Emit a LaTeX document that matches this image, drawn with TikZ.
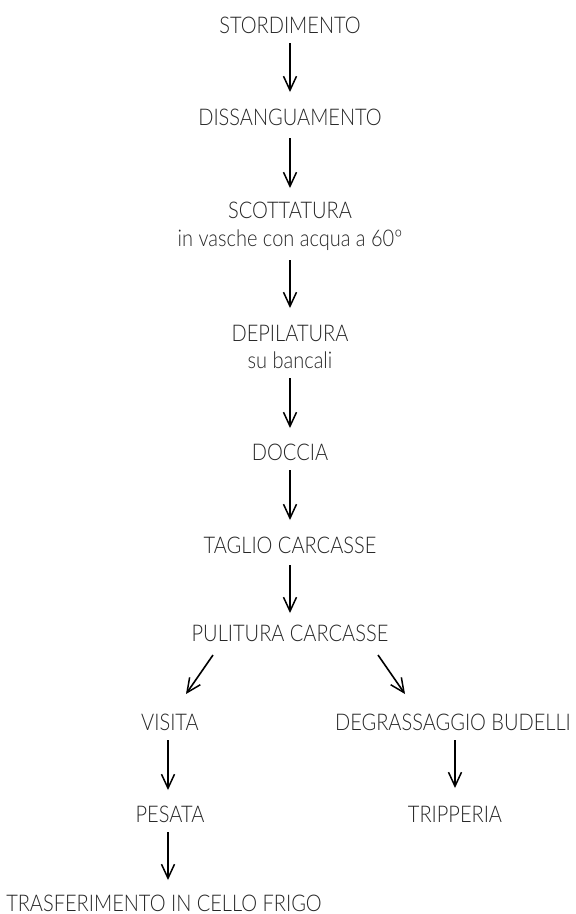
\documentclass[tikz,border=0pt]{standalone}
\usepackage{fontspec}
\setmainfont{Lato}[UprightFont=* Light, FakeStretch=0.87]
\usetikzlibrary{arrows.meta}
\begin{document}
\begin{tikzpicture}[x=1pt,y=-1pt,
  lbl/.style={text=black!85, font=\fontsize{23}{27}\selectfont, inner sep=0pt, anchor=center},
  arr/.style={-{Straight Barb[length=14pt,width=13pt,line width=1.5pt]}, line width=1.6pt, black}]
\useasboundingbox (0,0) rectangle (576,914);
\node[lbl] (n1) at (290,25) {STORDIMENTO};
\node[lbl] (n2) at (290,117) {DISSANGUAMENTO};
\node[lbl] (n3) at (290,210) {SCOTTATURA};
\node[lbl] (n3b) at (290,240) {in vasche con acqua a 60º};
\node[lbl] (n4) at (290,333) {DEPILATURA};
\node[lbl] (n4b) at (290,360) {su bancali};
\node[lbl] (n5) at (290,452) {DOCCIA};
\node[lbl] (n6) at (290,545) {TAGLIO CARCASSE};
\node[lbl] (n7) at (290,633) {PULITURA CARCASSE};
\node[lbl] (n8) at (170,722) {VISITA};
\node[lbl] (n9) at (453,722) {DEGRASSAGGIO BUDELLI};
\node[lbl] (n10) at (170,814) {PESATA};
\node[lbl] (n11) at (455,814) {TRIPPERIA};
\node[lbl] (n12) at (164,903) {TRASFERIMENTO IN CELLO FRIGO};
\coordinate (a1s) at (290,43); \coordinate (a1e) at (290,92);
\coordinate (a2s) at (290,138); \coordinate (a2e) at (290,188);
\coordinate (a3s) at (290,260); \coordinate (a3e) at (290,308);
\coordinate (a4s) at (290,378); \coordinate (a4e) at (290,428);
\coordinate (a5s) at (290,470); \coordinate (a5e) at (290,520);
\coordinate (a6s) at (290,565); \coordinate (a6e) at (290,613);
\coordinate (a7s) at (213,655); \coordinate (a7e) at (186,694);
\coordinate (a8s) at (378,655); \coordinate (a8e) at (405,694);
\coordinate (a9s) at (168,740); \coordinate (a9e) at (168,790);
\coordinate (a10s) at (455,740); \coordinate (a10e) at (455,788);
\coordinate (a11s) at (168,832); \coordinate (a11e) at (168,880);
\foreach \i in {1,...,11} \draw[arr] (a\i s) -- (a\i e);
\end{tikzpicture}
\end{document}
